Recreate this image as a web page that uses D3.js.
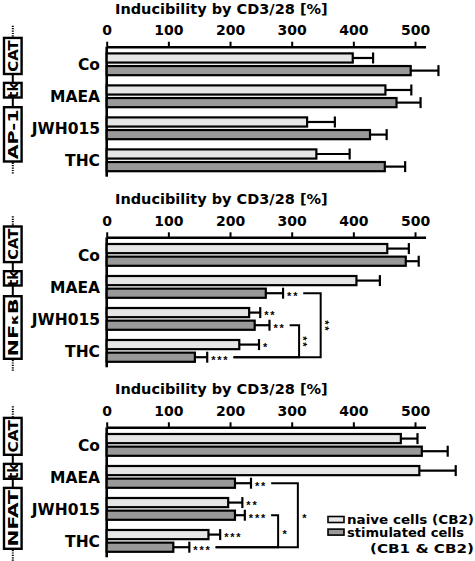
<!DOCTYPE html>
<html>
<head>
<meta charset="utf-8">
<script src="https://cdn.jsdelivr.net/npm/d3@7"></script>
<style>
  html, body { margin: 0; padding: 0; background: #fff; }
  svg { display: block; }
  text { font-family: "DejaVu Sans", "Liberation Sans", Arial, sans-serif; font-weight: bold; }
  text.star { font-family: "Liberation Sans", Arial, sans-serif; letter-spacing: 1.8px; }
</style>
</head>
<body>
<svg id="chart" width="475" height="561"></svg>
<script>
// ---------- DATA ----------
const categories = ["Co", "MAEA", "JWH015", "THC"];
const seriesNames = ["naive cells (CB2)", "stimulated cells (CB1 & CB2)"];
const tickValues = [0, 100, 200, 300, 400, 500];
const axisTitle = "Inducibility by CD3/28 [%]";

// AP-1 panel
const ap1Naive = [399, 452, 325, 340];
const ap1NaiveErr = [33, 42, 45, 54];
const ap1Stim = [493, 470, 427, 451];
const ap1StimErr = [45, 39, 27, 33];

// NF-kB panel
const nfkbNaive = [455, 405, 231, 215];
const nfkbNaiveErr = [35, 38, 18, 32];
const nfkbStim = [485, 258, 240, 143];
const nfkbStimErr = [21, 28, 24, 20];
const nfkbNaiveStars = ["", "", "**", "*"];
const nfkbStimStars = ["", "**", "**", "***"];
const nfkbBrackets = [
  { from: "MAEA", to: "THC", at: 347, label: "**" },
  { from: "JWH015", to: "THC", at: 312, label: "**" }
];

// NFAT panel
const nfatNaive = [477, 507, 197, 165];
const nfatNaiveErr = [27, 59, 23, 19];
const nfatStim = [511, 208, 208, 108];
const nfatStimErr = [42, 26, 16, 26];
const nfatNaiveStars = ["", "", "**", "***"];
const nfatStimStars = ["", "**", "***", "***"];
const nfatBrackets = [
  { from: "MAEA", to: "THC", at: 310, label: "*" },
  { from: "JWH015", to: "THC", at: 278, label: "*" }
];

// ---------- DRAWING ----------
const svg = d3.select("#chart");
const NAIVE_FILL = "#e6e6e6";
const STIM_FILL = "#999999";
const STAR_SIZE = 11;
const STAR_DY = 6.3;

const panels = [
  { top: 46.7, element: "AP-1", naive: ap1Naive, naiveErr: ap1NaiveErr, stim: ap1Stim, stimErr: ap1StimErr,
    naiveStars: ["", "", "", ""], stimStars: ["", "", "", ""], brackets: [],
    boxes: [[-10, 28.5], [35, 52], [59.3, 116]] },
  { top: 237.3, element: "NFkB", naive: nfkbNaive, naiveErr: nfkbNaiveErr, stim: nfkbStim, stimErr: nfkbStimErr,
    naiveStars: nfkbNaiveStars, stimStars: nfkbStimStars, brackets: nfkbBrackets,
    boxes: [[-12, 26], [32.7, 49.4], [57.7, 122.7]] },
  { top: 427.3, element: "NFAT", naive: nfatNaive, naiveErr: nfatNaiveErr, stim: nfatStim, stimErr: nfatStimErr,
    naiveStars: nfatNaiveStars, stimStars: nfatStimStars, brackets: nfatBrackets,
    boxes: [[-10.6, 28.7], [35.4, 52.7], [59.4, 122.7]] }
];

const x = d3.scaleLinear().domain([0, 517]).range([106.7, 425.5]);

panels.forEach(p => {
  const a = p.top;
  const g = svg.append("g");

  const y = d3.scaleBand().domain(categories).range([a + 1.6, a + 129.6]).paddingInner(0.25).paddingOuter(0.125);
  const inner = d3.scaleBand().domain(["naive", "stim"]).range([0, y.bandwidth()]).paddingInner(0.1);

  // title
  g.append("text").attr("x", 115).attr("y", a - 33).attr("font-size", 14.5).text(axisTitle);

  // axis
  const ax = g.append("g").attr("transform", `translate(0,${a})`)
    .call(d3.axisTop(x).tickValues(tickValues).tickSize(5).tickSizeOuter(0).tickPadding(6.5));
  ax.attr("font-family", null).attr("font-size", null);
  ax.select(".domain").attr("stroke-width", 2.6);
  ax.selectAll(".tick line").attr("stroke-width", 2);
  ax.selectAll(".tick text").attr("font-size", 14).attr("fill", "#000");

  // vertical left line
  g.append("line").attr("x1", x(0)).attr("x2", x(0)).attr("y1", a).attr("y2", a + 130)
    .attr("stroke", "#000").attr("stroke-width", 2.6);

  // category labels
  g.selectAll(".cat").data(categories).join("text")
    .attr("x", 100).attr("y", d => y(d) + y.bandwidth() / 2 + 5.6)
    .attr("text-anchor", "end").attr("font-size", 15.5).text(d => d);

  const rows = [];
  categories.forEach((c, i) => {
    rows.push({ cat: c, s: "naive", v: p.naive[i], e: p.naiveErr[i], star: p.naiveStars[i], fill: NAIVE_FILL });
    rows.push({ cat: c, s: "stim", v: p.stim[i], e: p.stimErr[i], star: p.stimStars[i], fill: STIM_FILL });
  });
  rows.forEach(r => { r.cy = y(r.cat) + inner(r.s) + inner.bandwidth() / 2; });

  // error bars
  const eb = g.selectAll(".eb").data(rows).join("g");
  eb.append("line").attr("x1", r => x(r.v)).attr("x2", r => x(r.v + r.e))
    .attr("y1", r => r.cy).attr("y2", r => r.cy).attr("stroke", "#000").attr("stroke-width", 2.2);
  eb.append("line").attr("x1", r => x(r.v + r.e)).attr("x2", r => x(r.v + r.e))
    .attr("y1", r => r.cy - 5.5).attr("y2", r => r.cy + 5.5).attr("stroke", "#000").attr("stroke-width", 2.2);

  // bars
  g.selectAll(".bar").data(rows).join("rect")
    .attr("x", x(0)).attr("y", r => y(r.cat) + inner(r.s) + 1.1)
    .attr("width", r => x(r.v) - x(0)).attr("height", inner.bandwidth() - 2.2)
    .attr("fill", r => r.fill).attr("stroke", "#000").attr("stroke-width", 2.2);

  // stars
  rows.forEach(r => {
    r.textEnd = x(r.v + r.e);
    if (r.star) {
      const t = g.append("text").attr("class", "star").attr("x", x(r.v + r.e) + 4).attr("y", r.cy + STAR_DY)
        .attr("font-size", STAR_SIZE).text(r.star);
      r.textEnd = x(r.v + r.e) + 4 + t.node().getComputedTextLength();
    }
  });

  // brackets
  p.brackets.forEach(b => {
    const rt = rows.find(r => r.cat === b.from && r.s === "stim");
    const rb = rows.find(r => r.cat === b.to && r.s === "stim");
    const xv = x(b.at);
    g.append("path")
      .attr("d", `M${rt.textEnd + 4},${rt.cy}H${xv}V${rb.cy}H${rb.textEnd + 4}`)
      .attr("fill", "none").attr("stroke", "#000").attr("stroke-width", 2);
    const mid = (rt.cy + rb.cy) / 2;
    if (b.label.length > 1) {
      g.append("text").attr("class", "star").attr("text-anchor", "middle").attr("font-size", STAR_SIZE)
        .attr("transform", `translate(${xv + 6.5 - STAR_DY},${mid + 1}) rotate(90)`).text(b.label);
    } else {
      g.append("text").attr("class", "star").attr("text-anchor", "middle").attr("font-size", STAR_SIZE)
        .attr("x", xv + 7.5).attr("y", mid + STAR_DY).text(b.label);
    }
  });

  // construct diagram
  const cx = 12.8;
  const cg = g.append("g");
  const bx = p.boxes;
  cg.append("line").attr("x1", cx).attr("x2", cx).attr("y1", a - 21).attr("y2", a + bx[0][0])
    .attr("stroke", "#000").attr("stroke-width", 2).attr("stroke-dasharray", "1.2,1.2");
  cg.append("line").attr("x1", cx).attr("x2", cx).attr("y1", a + bx[2][1]).attr("y2", a + bx[2][1] + 12)
    .attr("stroke", "#000").attr("stroke-width", 2).attr("stroke-dasharray", "1.2,1.2");
  cg.append("line").attr("x1", cx).attr("x2", cx).attr("y1", a + bx[0][0]).attr("y2", a + bx[2][1])
    .attr("stroke", "#000").attr("stroke-width", 2);
  const labels = ["CAT", "tk", p.element];
  bx.forEach((bb, i) => {
    const len = bb[1] - bb[0];
    cg.append("rect").attr("x", 4).attr("y", a + bb[0] + 1.2).attr("width", 17.6).attr("height", len - 2.4)
      .attr("fill", "#fff").attr("stroke", "#000").attr("stroke-width", 2.4);
    const mid = a + (bb[0] + bb[1]) / 2;
    const t = cg.append("text").attr("text-anchor", "middle").attr("font-size", 14)
      .attr("transform", `translate(${cx + 5.2},${mid}) rotate(-90)`);
    if (i !== 1) t.attr("textLength", len - 7).attr("lengthAdjust", "spacingAndGlyphs");
    if (labels[i] === "NFkB") {
      t.append("tspan").text("NF");
      t.append("tspan").attr("font-size", 10).text("\u03BA");
      t.append("tspan").text("B");
    } else {
      t.text(labels[i]);
    }
  });
});

// legend
const lg = svg.append("g");
seriesNames.forEach((s, i) => {
  lg.append("rect").attr("x", 328).attr("y", 516.5 + i * 12.6).attr("width", 16).attr("height", 6)
    .attr("fill", i === 0 ? NAIVE_FILL : STIM_FILL).attr("stroke", "#000").attr("stroke-width", 1.6);
});
const legendLines = [
  { text: "naive cells (CB2)", x: 347, y: 524, len: 127 },
  { text: "stimulated cells", x: 347, y: 536.5, len: 117 },
  { text: "(CB1 & CB2)", x: 370, y: 553, len: 104 }
];
legendLines.forEach(l => {
  lg.append("text").attr("x", l.x).attr("y", l.y).attr("font-size", 11.5)
    .attr("textLength", l.len).attr("lengthAdjust", "spacingAndGlyphs").text(l.text);
});
</script>
</body>
</html>
